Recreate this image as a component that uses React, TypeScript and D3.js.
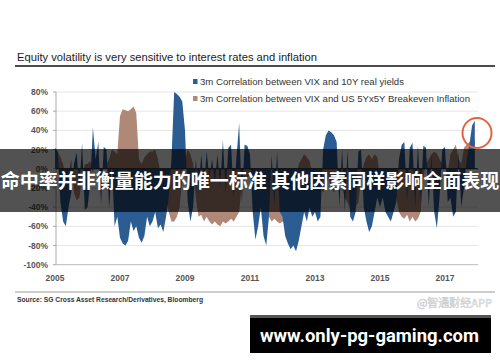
import React, { useEffect, useRef } from 'react';
import * as d3 from 'd3';

// monthly correlation values, Jan 2005 .. Dec 2017 (one row per year)
const realYieldCorr: number[] = [
  22, 18, -35, -55, -60, -40, -25, 5, 17, -20, 27, -43,
  -40, -15, 43, 10, 28, -38, 23, 20, -42, 5, -60, -50,
  -72, -78, -80, -75, -55, -65, -60, -72, -77, -70, -50, -60,
  -55, -45, -62, -58, -66, -50, -30, 10, 80, 78, 75, 70,
  40, -35, -55, -40, 10, -25, 15, -20, 18, -10, 10, -15,
  15, -20, 30, -25, 22, 25, -30, 12, 48, -35, 25, 24,
  15, -45, -74, -60, -40, -70, -80, -50, 15, -40, 18, -45,
  -50, -70, -78, -84, -80, -86, -75, -60, -45, -55, -40, -50,
  -45, -55, -50, 20, 35, 40, 38, 35, 28, -40, 22, -45,
  20, -50, -55, -45, 18, 20, -40, -55, -66, -60, -45, -30,
  -40, -30, -45, -50, -55, -45, -35, 10, 25, 28, -35, 22,
  27, -40, 25, -35, 24, 22, -40, 15, -45, -62, -30, 20,
  23, -35, -30, -50, -45, 18, -40, -20, 10, 25, 45, 50,
];

const breakevenCorr: number[] = [
  15, 18, 12, 5, -10, -5, 10, -25, -33, -30, -10, 5,
  5, 8, -5, 10, 5, -10, 8, 5, 10, 20, 18, 15,
  55, 62, 61, 60, 62, 65, 58, 10, 5, 12, 15, 18,
  18, 20, 10, -5, -20, -30, -45, -55, -55, -50, -40, -10,
  10, 20, 15, 5, -30, -50, -48, -55, -50, -55, -58, -55,
  -58, -60, -55, -57, -55, -52, -55, -50, -45, -15, -10, -10,
  -5, -10, -20, -15, -25, -30, -45, -50, -55, -52, -55, -57,
  -55, -57, -50, -30, -20, -10, 5, 10, 15, 12, 8, -5,
  -10, -15, -20, -25, -15, -10, -20, -25, -15, -10, -20, -30,
  -35, -42, -45, -40, -35, -10, 5, 12, 15, 10, 15, 12,
  -10, -20, -25, -30, -20, -15, -30, -45, -50, -52, -48, -55,
  -50, -55, -52, -45, -10, 5, 10, 15, 18, 16, 10, 5,
  10, -5, 15, 20, 25, 10, 5, 22, 25, 28, 30, 30,
];

const yTicks = [80, 60, 40, 20, 0, -20, -40, -60, -80, -100];
const xTicks = [2005, 2007, 2009, 2011, 2013, 2015, 2017];
const legendLabels = [
  '3m Correlation between VIX and 10Y real yields',
  '3m Correlation between VIX and US 5Yx5Y Breakeven Inflation',
];
const title = 'Equity volatility is very sensitive to interest rates and inflation';
const source = 'Source: SG Cross Asset Research/Derivatives, Bloomberg';
const banner = '命中率并非衡量能力的唯一标准 其他因素同样影响全面表现';
const url = 'www.only-pg-gaming.com';
const watermark = '@智通财经APP';

const BLUE = '#2b5c92';
const BROWN = '#b08878';
const FONT = '"Liberation Sans", Arial, sans-serif';

const App: React.FC = () => {
  const svgRef = useRef<SVGSVGElement | null>(null);

  useEffect(() => {
    const svg = d3.select(svgRef.current);
    svg.selectAll('*').remove();

    const x = d3.scaleLinear().domain([2005, 2017]).range([55, 445]);
    const y = d3.scaleLinear().domain([-100, 80]).range([264.7, 92]);
    const left = 56;
    const right = 478;

    svg.append('rect').attr('width', 500).attr('height', 362).attr('fill', '#fff');

    // title + rule
    svg.append('text')
      .attr('x', 17).attr('y', 61)
      .attr('font-family', FONT).attr('font-size', 10.5)
      .attr('fill', '#1a1a1a')
      .attr('textLength', 300).attr('lengthAdjust', 'spacingAndGlyphs')
      .text(title);
    svg.append('line')
      .attr('x1', 15).attr('x2', 495).attr('y1', 66).attr('y2', 66)
      .attr('stroke', '#111').attr('stroke-width', 1.5);

    // grid
    svg.append('g').selectAll('line').data(yTicks).enter().append('line')
      .attr('x1', left).attr('x2', right)
      .attr('y1', (d) => y(d)).attr('y2', (d) => y(d))
      .attr('stroke', (d) => (d === -100 ? '#bbb' : '#e6e6e6'))
      .attr('stroke-width', 1);

    // y axis
    svg.append('line')
      .attr('x1', left).attr('x2', left).attr('y1', y(80)).attr('y2', y(-100))
      .attr('stroke', '#aaa');
    svg.append('g').selectAll('line').data(yTicks).enter().append('line')
      .attr('x1', left - 3).attr('x2', left)
      .attr('y1', (d) => y(d)).attr('y2', (d) => y(d))
      .attr('stroke', '#aaa');
    svg.append('g').selectAll('text').data(yTicks).enter().append('text')
      .attr('x', 48).attr('y', (d) => y(d) + 3)
      .attr('text-anchor', 'end')
      .attr('font-family', FONT).attr('font-size', 8.5).attr('font-weight', 'bold')
      .attr('fill', '#555')
      .text((d) => `${d}%`);

    // x labels
    svg.append('g').selectAll('text').data(xTicks).enter().append('text')
      .attr('x', (d) => x(d)).attr('y', 281)
      .attr('text-anchor', 'middle')
      .attr('font-family', FONT).attr('font-size', 8.5).attr('font-weight', 'bold')
      .attr('fill', '#555')
      .text((d) => d);

    // series
    const area = d3.area<number>()
      .x((_, i) => x(2005 + i / 12))
      .y0(y(0))
      .y1((d) => y(d));

    svg.append('path').attr('d', area(breakevenCorr)).attr('fill', BROWN);
    svg.append('path').attr('d', area(realYieldCorr)).attr('fill', BLUE);

    svg.append('line')
      .attr('x1', left).attr('x2', right).attr('y1', y(0)).attr('y2', y(0))
      .attr('stroke', '#222').attr('stroke-width', 1);

    // legend
    const legend = svg.append('g');
    legendLabels.forEach((label, i) => {
      const ly = 85 + i * 17;
      legend.append('rect')
        .attr('x', 193).attr('y', ly - 6).attr('width', 4.5).attr('height', 5)
        .attr('fill', i === 0 ? BLUE : BROWN);
      legend.append('text')
        .attr('x', 200).attr('y', ly)
        .attr('font-family', FONT).attr('font-size', 8.3)
        .attr('fill', '#333')
        .attr('textLength', i === 0 ? 204 : 270).attr('lengthAdjust', 'spacingAndGlyphs')
        .text(label);
    });

    // highlight circle
    svg.append('ellipse')
      .attr('cx', 477).attr('cy', 133).attr('rx', 14.5).attr('ry', 15)
      .attr('fill', 'none').attr('stroke', '#e2643f').attr('stroke-width', 2);

    // bottom rule + source
    svg.append('line')
      .attr('x1', 15).attr('x2', 495).attr('y1', 292).attr('y2', 292)
      .attr('stroke', '#bbb').attr('stroke-width', 1.5);
    svg.append('text')
      .attr('x', 17).attr('y', 302)
      .attr('font-family', FONT).attr('font-size', 6.3).attr('font-weight', 'bold')
      .attr('fill', '#333')
      .attr('textLength', 186).attr('lengthAdjust', 'spacingAndGlyphs')
      .text(source);
    svg.append('text')
      .attr('x', 492).attr('y', 307)
      .attr('text-anchor', 'end')
      .attr('font-family', '"Noto Sans CJK SC", sans-serif').attr('font-size', 11)
      .attr('fill', '#fff').attr('stroke', '#cfcfcf').attr('stroke-width', 0.6)
      .text(watermark);

    // overlay banner
    svg.append('rect')
      .attr('x', 0).attr('y', 149).attr('width', 500).attr('height', 63)
      .attr('fill', 'rgba(0,0,0,0.68)');
    svg.append('text')
      .attr('x', 250).attr('y', 188)
      .attr('text-anchor', 'middle')
      .attr('font-family', '"Noto Sans CJK SC", sans-serif')
      .attr('font-size', 19).attr('font-weight', 'bold')
      .attr('fill', '#fff')
      .text(banner);

    // url box
    svg.append('rect')
      .attr('x', 250).attr('y', 315).attr('width', 241).attr('height', 38)
      .attr('fill', '#000');
    svg.append('rect')
      .attr('x', 250).attr('y', 315).attr('width', 241).attr('height', 3)
      .attr('fill', '#555');
    svg.append('text')
      .attr('x', 260).attr('y', 342)
      .attr('font-family', 'Roboto, sans-serif')
      .attr('font-size', 19).attr('font-weight', 'bold')
      .attr('fill', '#fff')
      .attr('textLength', 219).attr('lengthAdjust', 'spacingAndGlyphs')
      .text(url);
  }, []);

  return (
    <svg
      ref={svgRef}
      width={500}
      height={362}
      style={{ position: 'absolute', left: 0, top: 0, display: 'block' }}
    />
  );
};

export default App;
